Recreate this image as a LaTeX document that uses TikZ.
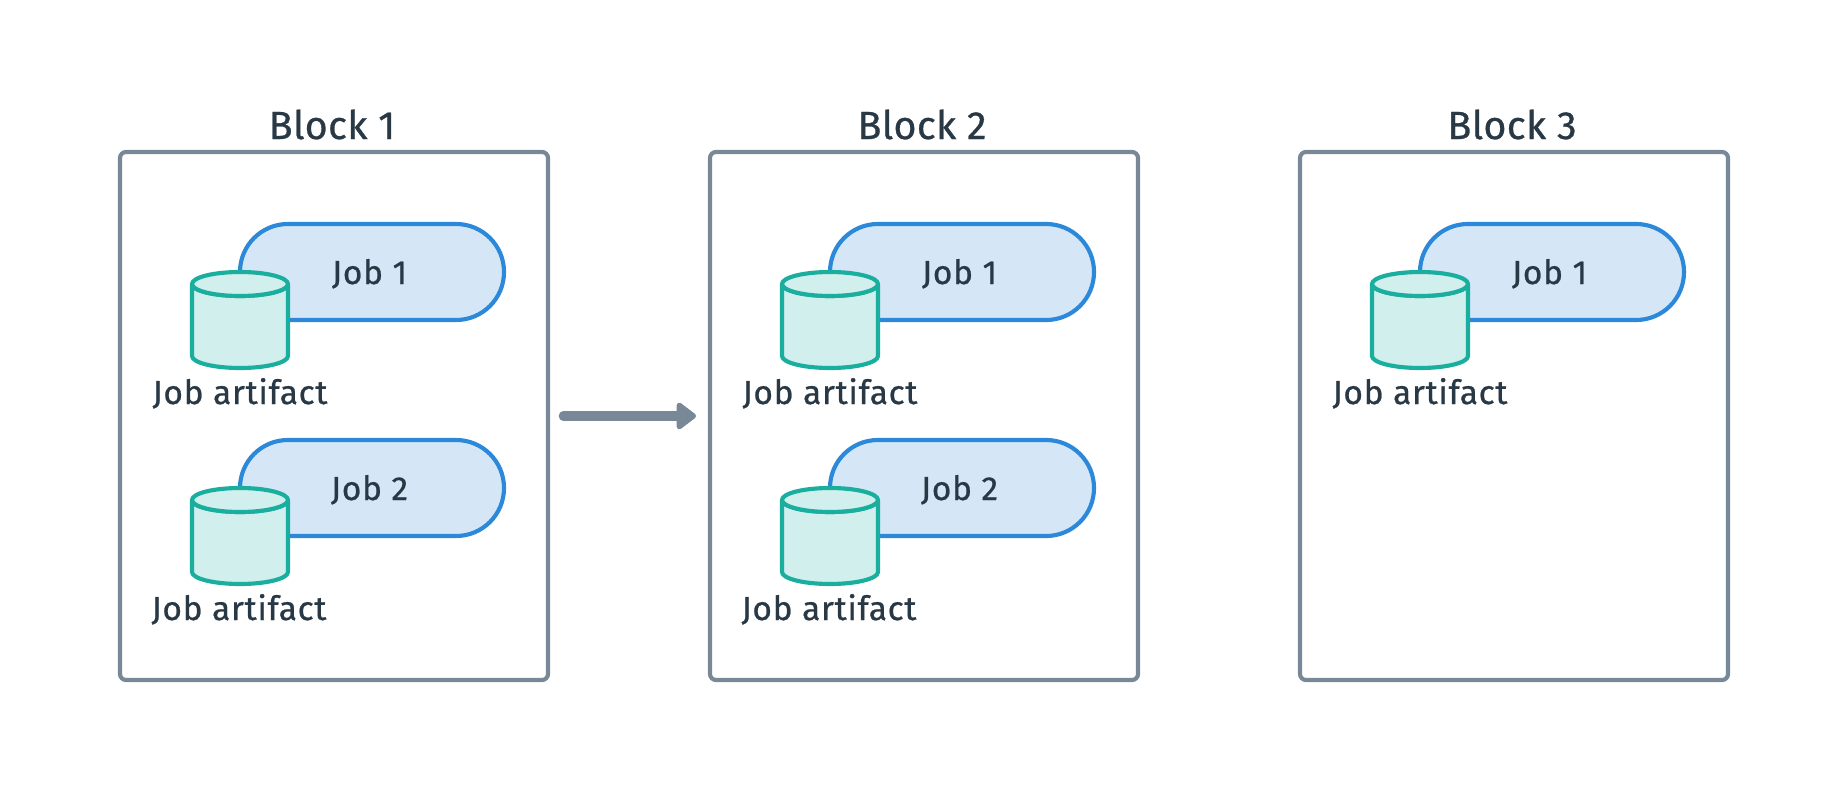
\documentclass[tikz,border=0pt]{standalone}
\usepackage{fontspec}
\newfontfamily\titleface[LetterSpace=1.0,FakeBold=0.7]{Fira Sans}
\newfontfamily\labelface[LetterSpace=2.3,FakeBold=0.7]{Fira Sans}
\usetikzlibrary{arrows.meta}
\definecolor{ink}{HTML}{293845}
\definecolor{slate}{HTML}{788896}
\definecolor{jobline}{HTML}{2C88D9}
\definecolor{jobfill}{HTML}{D5E7F7}
\definecolor{artline}{HTML}{1AAE9F}
\definecolor{artfill}{HTML}{D1EFEC}
\newcommand\titlefont{\titleface\fontsize{29.5}{36}\selectfont}
\newcommand\labelfont{\labelface\fontsize{25}{30}\selectfont}
\tikzset{
  x=0.75pt,y=-0.75pt,
  blockbox/.style={draw=slate,line width=3.1pt,fill=white,rounded corners=4.5pt,minimum width=321pt,minimum height=396pt,inner sep=0pt,outer sep=0pt},
  blocktitle/.style={text=ink,font=\titlefont,anchor=base,inner sep=0pt},
  jobpill/.style={draw=jobline,fill=jobfill,line width=3.1pt,rounded corners=35.9pt,minimum width=198pt,minimum height=72pt,inner sep=0pt,outer sep=0pt},
  joblabel/.style={text=ink,font=\labelfont,anchor=base,inner sep=0pt},
  drum/.style={draw=artline,fill=artfill,line width=3.1pt,line join=round},
  flow/.style={draw=slate,line width=7pt,line cap=round,-{Triangle[length=16pt,width=23pt,round]}},
}
% #1 name, #2 left x of the pill, #3 top y of the pill, #4 job text, #5 artifact label x offset
\newcommand\jobgroup[5]{%
  \node[jobpill] (#1p) at (#2+132,#3+48) {};
  \node[joblabel] (#1j) at (#2+129.5,#3+60) {#4};
  \path[drum] (#2-48,#3+60) -- (#2-48,#3+132) arc[start angle=180,end angle=360,x radius=36pt,y radius=9pt] -- (#2+48,#3+60) arc[start angle=360,end angle=180,x radius=36pt,y radius=9pt] -- cycle;
  \path[drum] (#2,#3+60) ellipse[x radius=36pt,y radius=9pt];
  \node[joblabel] (#1a) at (#2+#5,#3+180) {Job artifact};
}
\begin{document}
\begin{tikzpicture}
\useasboundingbox (0,0) rectangle (1824,792);
\fill[white] (0,0) rectangle (1824,792);
\node[blockbox] (b1) at (334,416) {};
\node[blockbox] (b2) at (924,416) {};
\node[blockbox] (b3) at (1514,416) {};
\node[blocktitle] (t1) at (332,139) {Block 1};
\node[blocktitle] (t2) at (922,139) {Block 2};
\node[blocktitle] (t3) at (1512,139) {Block 3};
\jobgroup{a}{240}{224}{Job 1}{0}
\jobgroup{b}{240}{440}{Job 2}{-1}
\jobgroup{c}{830}{224}{Job 1}{0}
\jobgroup{d}{830}{440}{Job 2}{-1}
\jobgroup{e}{1420}{224}{Job 1}{0}
\draw[flow,shorten <=11.5pt,shorten >=10.5pt] (b1) -- (b2);
\end{tikzpicture}
\end{document}
